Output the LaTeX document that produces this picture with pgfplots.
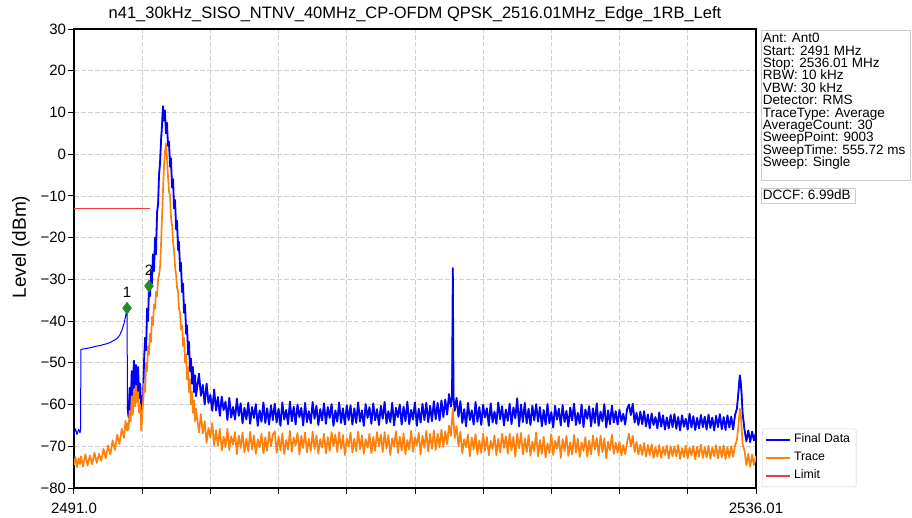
\documentclass[border=0pt]{standalone}
\usepackage{fontspec}
\setmainfont{Liberation Sans}
\usepackage{pgfplots}
\usepackage{pgfplotstable}
\pgfplotsset{compat=1.18}
\definecolor{fdblue}{RGB}{0,0,255}
\definecolor{trorange}{RGB}{255,128,10}
\definecolor{limred}{RGB}{240,60,60}
\definecolor{mkgreen}{RGB}{30,140,45}

\pgfplotstableread{
f b o
2491.00 -67.0 -74.5
2491.10 -65.8 -72.6
2491.20 -67.2 -75.0
2491.30 -65.9 -72.9
2491.40 -66.8 -74.2
2491.43 -66.0 -73.6
2491.46 -46.8 -72.4
2491.60 -46.7 -74.9
2491.75 -46.6 -71.9
2491.90 -46.5 -74.6
2492.05 -46.4 -72.2
2492.20 -46.3 -74.3
2492.35 -46.1 -71.5
2492.50 -46.0 -74.0
2492.65 -45.9 -71.8
2492.80 -45.8 -73.5
2492.95 -45.6 -70.6
2493.10 -45.5 -72.9
2493.25 -45.3 -69.8
2493.40 -45.1 -72.0
2493.55 -44.8 -68.6
2493.70 -44.5 -70.9
2493.85 -44.1 -67.2
2494.00 -43.5 -69.5
2494.15 -42.3 -65.8
2494.30 -40.6 -68.0
2494.40 -38.9 -63.9
2494.50 -36.9 -66.2
2494.53 -60.5 -64.5
2494.60 -63.0 -66.0
2494.67 -56.0 -61.5
2494.74 -61.5 -64.0
2494.81 -52.0 -58.0
2494.88 -58.0 -62.5
2494.95 -49.5 -56.5
2495.02 -56.0 -60.5
2495.09 -50.5 -55.5
2495.16 -57.5 -59.5
2495.23 -51.0 -57.0
2495.30 -58.5 -62.0
2495.37 -55.0 -60.0
2495.44 -62.5 -66.3
2495.50 -58.0 -63.0
2495.55 -60.0 -60.0
2495.62 -50.0 -55.0
2495.69 -44.0 -57.0
2495.76 -47.0 -50.0
2495.82 -37.0 -52.0
2495.89 -40.0 -46.0
2495.95 -31.0 -48.0
2496.02 -34.0 -43.0
2496.08 -28.0 -45.0
2496.15 -31.0 -39.0
2496.21 -24.0 -41.0
2496.28 -28.0 -36.0
2496.35 -20.0 -37.0
2496.41 -24.0 -33.0
2496.48 -14.0 -34.0
2496.55 -12.0 -30.0
2496.61 -5.0 -29.0
2496.68 -2.0 -27.0
2496.74 3.0 -22.0
2496.81 7.0 -15.0
2496.87 11.5 -9.0
2496.94 8.0 -3.0
2497.00 10.5 0.5
2497.07 5.0 2.5
2497.14 7.5 -1.0
2497.20 2.0 -5.0
2497.27 3.0 -9.0
2497.34 -3.0 -10.0
2497.40 -1.0 -15.0
2497.47 -8.0 -17.0
2497.54 -6.0 -21.0
2497.60 -13.0 -23.0
2497.67 -11.0 -27.0
2497.74 -18.0 -29.0
2497.80 -16.0 -32.0
2497.87 -23.0 -33.0
2497.93 -21.0 -37.0
2498.00 -28.0 -38.0
2498.06 -26.0 -42.0
2498.13 -33.0 -41.0
2498.20 -31.0 -46.0
2498.26 -38.0 -44.0
2498.33 -36.0 -50.0
2498.40 -43.0 -48.0
2498.46 -41.0 -54.0
2498.53 -48.0 -51.0
2498.59 -45.0 -57.0
2498.66 -52.0 -54.0
2498.72 -49.0 -60.0
2498.79 -55.0 -57.0
2498.85 -51.0 -62.0
2498.92 -57.0 -59.0
2498.99 -53.0 -64.0
2499.05 -58.0 -61.0
2499.25 -52.6 -66.7
2499.375 -57.9 -62.3
2499.5 -55.3 -66.9
2499.625 -60.0 -64.0
2499.75 -55.0 -69.2
2499.875 -59.6 -65.6
2500.0 -57.7 -67.9
2500.125 -61.5 -64.4
2500.25 -56.4 -69.9
2500.375 -61.4 -66.2
2500.5 -58.2 -69.8
2500.625 -62.7 -65.8
2500.75 -58.1 -71.0
2500.875 -61.3 -67.7
2501.0 -59.3 -70.2
2501.125 -63.7 -65.8
2501.25 -58.4 -70.9
2501.375 -63.1 -67.6
2501.5 -60.6 -69.6
2501.625 -63.6 -66.6
2501.75 -58.6 -71.9
2501.875 -62.7 -67.4
2502.0 -59.7 -70.4
2502.125 -64.5 -66.7
2502.25 -60.8 -71.5
2502.375 -63.6 -68.2
2502.5 -59.6 -71.2
2502.625 -64.6 -66.5
2502.75 -60.6 -70.7
2502.875 -63.2 -67.4
2503.0 -59.9 -71.8
2503.125 -65.1 -68.3
2503.25 -61.4 -70.3
2503.375 -64.1 -67.0
2503.5 -59.5 -71.7
2503.625 -64.4 -67.8
2503.75 -60.9 -71.1
2503.875 -64.8 -66.6
2504.0 -60.2 -70.0
2504.125 -63.7 -67.2
2504.25 -59.8 -66.4
2504.375 -64.3 -71.6
2504.5 -61.0 -67.7
2504.625 -65.1 -71.0
2504.75 -59.5 -66.9
2504.875 -63.6 -71.9
2505.0 -61.3 -68.5
2505.125 -64.7 -70.8
2505.25 -59.3 -66.3
2505.375 -64.0 -71.3
2505.5 -60.5 -67.9
2505.625 -64.8 -69.8
2505.75 -60.0 -66.8
2505.875 -63.0 -72.0
2506.0 -60.8 -67.5
2506.125 -65.0 -70.4
2506.25 -59.6 -66.7
2506.375 -64.2 -71.5
2506.5 -61.6 -68.2
2506.625 -64.5 -71.2
2506.75 -59.4 -66.5
2506.875 -63.4 -70.7
2507.0 -60.3 -67.4
2507.125 -64.9 -71.8
2507.25 -61.1 -68.3
2507.375 -63.8 -70.3
2507.5 -59.7 -67.0
2507.625 -64.6 -71.7
2507.75 -60.6 -67.8
2507.875 -63.2 -71.1
2508.0 -59.9 -66.6
2508.125 -65.1 -70.0
2508.25 -61.4 -67.2
2508.375 -64.1 -71.4
2508.5 -59.5 -66.6
2508.625 -64.4 -70.6
2508.75 -60.9 -67.3
2508.875 -64.8 -72.1
2509.0 -60.2 -68.1
2509.125 -63.7 -70.1
2509.25 -60.2 -66.7
2509.375 -64.8 -71.5
2509.5 -60.9 -68.2
2509.625 -64.4 -71.2
2509.75 -59.5 -66.5
2509.875 -64.1 -70.7
2510.0 -61.4 -67.4
2510.125 -65.1 -71.8
2510.25 -59.9 -68.3
2510.375 -63.2 -70.3
2510.5 -60.6 -67.0
2510.625 -64.6 -71.7
2510.75 -59.7 -67.8
2510.875 -63.8 -71.1
2511.0 -61.1 -66.6
2511.125 -64.9 -70.0
2511.25 -60.3 -67.2
2511.375 -63.4 -71.4
2511.5 -59.4 -66.6
2511.625 -64.5 -70.6
2511.75 -61.6 -67.3
2511.875 -64.2 -72.1
2512.0 -59.6 -68.1
2512.125 -65.0 -70.1
2512.25 -60.8 -66.4
2512.375 -63.0 -71.6
2512.5 -60.0 -67.7
2512.625 -64.8 -71.0
2512.75 -60.5 -66.9
2512.875 -64.0 -71.9
2513.0 -59.3 -68.5
2513.125 -64.7 -70.8
2513.25 -61.3 -66.3
2513.375 -63.6 -71.3
2513.5 -59.5 -67.9
2513.625 -65.1 -69.8
2513.75 -61.0 -66.8
2513.875 -64.3 -72.0
2514.0 -59.8 -67.5
2514.125 -63.7 -70.4
2514.25 -59.6 -66.3
2514.375 -64.2 -71.3
2514.5 -60.3 -67.0
2514.625 -64.0 -70.6
2514.75 -59.2 -66.2
2514.875 -63.5 -70.9
2515.0 -59.6 -67.0
2515.125 -63.8 -70.3
2515.25 -59.0 -66.0
2515.375 -63.0 -70.2
2515.5 -58.8 -66.4
2515.625 -62.4 -69.5
2515.75 -57.5 -65.0
2515.875 -60.5 -67.5
2515.95 -58.0 -63.5
2516.0 -27.3 -61.0
2516.05 -58.5 -64.0
2516.125 -61.5 -68.0
2516.25 -58.4 -65.2
2516.375 -62.9 -70.0
2516.5 -59.2 -66.5
2516.625 -64.4 -71.7
2516.75 -61.1 -68.3
2516.875 -65.2 -70.2
2517.0 -59.6 -67.2
2517.125 -63.7 -72.4
2517.25 -61.4 -67.9
2517.375 -64.8 -70.8
2517.5 -59.4 -67.1
2517.625 -64.1 -71.9
2517.75 -60.6 -68.6
2517.875 -64.9 -71.6
2518.0 -60.1 -66.9
2518.125 -63.1 -71.1
2518.25 -60.9 -67.8
2518.375 -65.1 -72.2
2518.5 -59.7 -68.7
2518.625 -64.3 -70.7
2518.75 -61.7 -67.4
2518.875 -64.6 -72.1
2519.0 -59.5 -68.2
2519.125 -63.5 -71.5
2519.25 -60.4 -67.0
2519.375 -65.0 -70.4
2519.5 -61.2 -67.6
2519.625 -63.9 -71.8
2519.75 -59.8 -67.0
2519.875 -64.7 -71.0
2520.0 -60.7 -67.7
2520.125 -63.3 -72.5
2520.25 -58.5 -67.0
2520.375 -65.2 -70.5
2520.5 -60.0 -66.8
2520.625 -64.2 -72.0
2520.75 -59.6 -68.1
2520.875 -64.5 -71.4
2521.0 -61.0 -67.3
2521.125 -64.9 -72.3
2521.25 -60.3 -68.9
2521.375 -63.8 -71.2
2521.5 -59.9 -66.7
2521.625 -64.1 -72.4
2521.75 -60.6 -68.5
2521.875 -65.2 -71.8
2522.0 -61.3 -67.7
2522.125 -64.8 -72.7
2522.25 -59.9 -69.3
2522.375 -64.5 -71.6
2522.5 -61.8 -67.1
2522.625 -65.5 -72.1
2522.75 -60.3 -68.7
2522.875 -63.6 -70.6
2523.0 -61.0 -67.6
2523.125 -65.0 -72.8
2523.25 -60.1 -68.3
2523.375 -64.2 -71.2
2523.5 -61.5 -67.5
2523.625 -65.3 -72.3
2523.75 -60.7 -69.0
2523.875 -63.8 -72.0
2524.0 -59.8 -67.3
2524.125 -64.9 -71.5
2524.25 -62.0 -68.2
2524.375 -64.6 -72.6
2524.5 -60.0 -69.1
2524.625 -65.4 -71.1
2524.75 -61.2 -67.8
2524.875 -63.4 -72.5
2525.0 -60.4 -68.6
2525.125 -65.2 -71.9
2525.25 -60.9 -67.4
2525.375 -64.4 -70.8
2525.5 -59.7 -68.0
2525.625 -65.1 -72.2
2525.75 -61.7 -67.4
2525.875 -64.0 -71.4
2526.0 -59.9 -68.1
2526.125 -65.5 -72.9
2526.25 -61.4 -68.9
2526.375 -64.7 -70.9
2526.5 -60.2 -67.2
2526.625 -64.3 -71.8
2526.75 -61.6 -69.1
2526.875 -64.8 -71.5
2527.0 -61.3 -68.9
2527.125 -64.0 -72.2
2527.25 -62.2 -69.7
2527.375 -64.8 -71.9
2527.5 -61.1 -69.1
2527.625 -60.0 -67.0
2527.75 -62.5 -70.0
2527.875 -59.8 -67.5
2528.0 -64.3 -71.4
2528.125 -62.0 -68.9
2528.25 -64.9 -72.0
2528.375 -61.7 -69.6
2528.5 -64.7 -72.1
2528.625 -61.6 -69.2
2528.75 -65.2 -72.5
2528.875 -62.4 -69.7
2529.0 -65.7 -72.1
2529.125 -62.1 -69.5
2529.25 -64.9 -72.8
2529.375 -63.0 -70.2
2529.5 -65.7 -72.5
2529.625 -61.9 -69.7
2529.75 -65.3 -72.8
2529.875 -62.6 -70.2
2530.0 -66.0 -72.1
2530.125 -63.1 -69.8
2530.25 -65.7 -73.0
2530.375 -62.5 -70.0
2530.5 -65.4 -72.4
2530.625 -62.3 -70.0
2530.75 -65.8 -72.4
2530.875 -63.0 -69.7
2531.0 -66.2 -73.0
2531.125 -62.6 -70.4
2531.25 -65.3 -72.6
2531.375 -63.4 -69.8
2531.5 -66.0 -72.9
2531.625 -62.2 -70.3
2531.75 -65.5 -72.2
2531.875 -62.8 -69.9
2532.0 -66.1 -73.1
2532.125 -63.2 -70.1
2532.25 -65.7 -72.5
2532.375 -62.5 -69.6
2532.5 -65.4 -72.8
2532.625 -62.9 -70.2
2532.75 -66.0 -72.7
2532.875 -62.4 -69.9
2533.0 -65.6 -73.0
2533.125 -63.1 -70.3
2533.25 -66.2 -72.4
2533.375 -62.7 -69.7
2533.5 -65.4 -72.9
2533.625 -62.3 -70.1
2533.75 -65.9 -72.6
2533.875 -63.0 -69.8
2534.0 -66.1 -73.1
2534.125 -62.6 -70.2
2534.25 -65.5 -72.7
2534.375 -62.9 -70.0
2534.5 -66.0 -72.5
2534.625 -62.5 -69.9
2534.75 -61.0 -68.5
2534.875 -56.0 -64.0
2534.94 -53.0 -61.0
2535.0 -54.5 -62.0
2535.06 -57.5 -65.5
2535.125 -62.0 -69.5
2535.25 -66.0 -71.0
2535.375 -68.8 -74.6
2535.5 -66.2 -71.8
2535.625 -69.0 -74.9
2535.75 -66.5 -72.0
2535.875 -68.6 -74.5
2536.0 -66.8 -72.4
2536.01 -67.5 -73.8
}\spectrum

\begin{document}
\begin{tikzpicture}[x=1pt,y=1pt]
\useasboundingbox (-74,-29) rectangle (838,488);
\begin{axis}[
  at={(0pt,0pt)}, anchor=south west,
  scale only axis, width=682pt, height=459pt,
  xmin=2491, xmax=2536.01, ymin=-80, ymax=30,
  xtick={2491,2495.501,2500.002,2504.503,2509.004,2513.505,2518.006,2522.507,2527.008,2531.509,2536.01},
  xticklabels={2491.0,,,,,,,,,,2536.01},
  ytick={-80,-70,-60,-50,-40,-30,-20,-10,0,10,20,30},
  yticklabels={−80,−70,−60,−50,−40,−30,−20,−10,0,10,20,30},
  tick pos=left, tick align=outside, major tick length=6pt,
  tick style={black, line width=1pt},
  ticklabel style={font=\fontsize{15}{15}\selectfont},
  xticklabel style={yshift=-5pt},
  yticklabel style={xshift=1.5pt},
  axis line style={black, line width=1.3pt},
  grid=major,
  major grid style={black!18, line width=0.7pt, dash pattern=on 5pt off 2pt},
  legend cell align=left,
  legend image code/.code={\draw[#1, line width=1.8pt] (0pt,0pt) -- (24pt,0pt);},
  legend style={at={(rel axis cs:1.0088,0.002)}, anchor=south west,
    draw=black!20, fill=white, rounded corners=1.5pt,
    font=\fontsize{12.3}{14}\selectfont,
    nodes={text height=9pt, text depth=3pt, inner sep=3pt}},
]
\addplot[fdblue, line width=1pt, line join=round] table[x=f, y=b] {\spectrum};
\addlegendentry{Final Data}
\addplot[fdblue, line width=1.8pt, line join=round, forget plot,
  restrict x to domain=2494.52:2536.02] table[x=f, y=b] {\spectrum};
\addplot[trorange, line width=1.7pt, line join=round] table[x=f, y=o] {\spectrum};
\addlegendentry{Trace}
\addplot[limred, line width=1.2pt] coordinates {(2491,-13) (2496.0,-13)};
\addlegendentry{Limit}
\addplot[only marks, mark=diamond*, mark size=6pt, mkgreen,
  nodes near coords, point meta=explicit symbolic,
  every node near coord/.style={anchor=center, yshift=16pt, black,
    font=\fontsize{15}{15}\selectfont}]
  coordinates {(2494.5,-36.9) [1] (2495.95,-31.6) [2]};
\end{axis}
% title and axis label
\node[anchor=base, inner sep=0, font=\fontsize{16.5}{16.5}\selectfont] at (341,469) {n41\_30kHz\_SISO\_NTNV\_40MHz\_CP-OFDM QPSK\_2516.01MHz\_Edge\_1RB\_Left};
\node[rotate=90, inner sep=0, font=\fontsize{19}{19}\selectfont] at (-53,241) {Level (dBm)};
% info box
\draw[black!20, fill=white] (686.7,458) rectangle (836,308);
\foreach \t [count=\i from 0] in {Ant: Ant0, Start: 2491 MHz, Stop: 2536.01 MHz, RBW: 10 kHz, VBW: 30 kHz, Detector: RMS, TraceType: Average, AverageCount: 30, SweepPoint: 9003, SweepTime: 555.72 ms, Sweep: Single}
  \node[anchor=base west, inner sep=0, font=\fontsize{13.5}{13.5}\selectfont] at (688.7,445.3-12.4*\i) {\t};
\draw[black!20, fill=white] (686.7,299.7) rectangle (781,284.7);
\node[anchor=base west, inner sep=0, font=\fontsize{13.5}{13.5}\selectfont] at (688.7,288.3) {DCCF: 6.99dB};
\end{tikzpicture}
\end{document}
